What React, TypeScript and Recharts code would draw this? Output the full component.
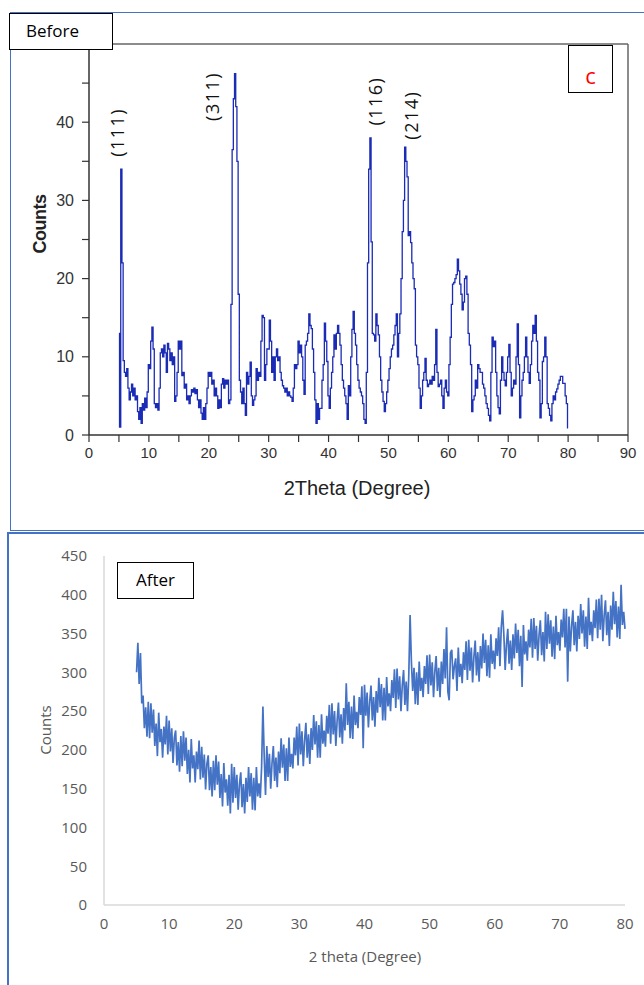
import React from 'react';
import { LineChart, Line, XAxis, YAxis, ReferenceLine, ReferenceDot } from 'recharts';

// ---------- "Before" pattern (top panel) ----------
const beforeStart = 5;
const beforeStep = 0.2;
const beforeCounts = [
  13, 1, 34, 22, 9.5,
  8, 7.5, 8.5, 6, 4.5,
  5.5, 6.5, 5, 6, 4.5,
  5, 3, 2, 3.5, 1.5,
  4, 3.2, 4.7, 3.5, 5.5,
  9, 8.5, 12, 13.8, 11,
  4, 3.5, 4, 3.2, 6,
  10.5, 11, 10, 11.5, 10.5,
  8, 11.7, 11, 9.5, 10.5,
  9, 10, 4.3, 5, 8,
  12, 11, 12, 7.6, 8,
  6, 6.5, 4.5, 5, 4,
  5, 5.8, 5.5, 6, 5.3,
  5.8, 4.5, 3.5, 4.5, 2.8,
  2, 3.5, 2, 4, 6,
  8, 7.5, 8, 6.5, 7,
  5, 6, 5, 3.4, 4.5,
  3.5, 6.5, 7.2, 6, 7,
  6.5, 7, 4, 4.5, 16.7,
  36.5, 43, 46.2, 42, 35,
  18, 7, 5.5, 4, 6,
  4, 2.5, 8, 6.5, 7.5,
  9.3, 5, 3.8, 4.5, 5,
  8.5, 7, 8, 7.5, 12,
  15.3, 15, 7, 9, 11,
  11, 14.7, 12, 8, 10,
  7, 10, 11, 9.5, 10,
  8, 7, 6.3, 6, 5.5,
  6, 5, 5.5, 5, 4.8,
  4.3, 6, 9, 8.5, 9,
  12, 10.5, 11.5, 10, 7,
  5.2, 11.5, 12, 13, 15.5,
  14, 13.6, 11, 8, 4.5,
  1.5, 4, 2, 3.4, 3.4,
  7, 9, 14.3, 12, 9.4,
  5, 3.4, 6, 8, 10,
  12.8, 11, 13, 14, 13,
  11.5, 9, 7, 6, 5,
  4, 2, 6.3, 5, 10,
  13.5, 15.8, 13, 11.5, 9,
  7, 6, 5.5, 5, 4,
  2, 1.5, 8, 22, 34,
  38, 24.7, 13, 12.8, 12,
  15.5, 14, 12.8, 10, 7,
  5.5, 4.3, 3, 4, 5.5,
  7, 8.5, 10, 11, 11.5,
  12.8, 14, 15.5, 10, 13,
  15.5, 20, 26, 30, 36.8,
  35, 33, 25.5, 26, 24.6,
  22, 20, 18.7, 11.5, 10,
  9, 6, 3.4, 5, 7,
  8, 9.8, 7, 6.2, 6.5,
  7, 6.5, 7.5, 7, 9,
  13.5, 8, 6.2, 6.5, 7,
  5, 3.4, 6, 7, 5.5,
  5, 9, 12.5, 16.7, 19.3,
  19.5, 20, 20.5, 22.5, 21,
  19.3, 18, 16, 17, 20,
  20.3, 18, 13, 11.5, 9,
  3, 4.5, 5, 7, 6,
  9, 8.5, 8, 8, 6.5,
  6, 5, 4, 3.4, 2.5,
  1.8, 8, 12.5, 11.3, 12,
  8, 5, 3.5, 2.7, 7,
  10, 8, 7, 6.3, 8,
  10, 11.6, 8, 5, 6,
  7, 6.5, 10, 14.2, 9,
  2.2, 5, 7, 8, 10,
  12.5, 10, 8, 6.6, 9,
  12, 14, 13, 15.3, 12,
  8, 7, 2.2, 4, 9.4,
  10, 12.5, 10, 4, 3.4,
  2.5, 1.8, 4, 5, 4.5,
  5.5, 5.9, 6.5, 7, 7.5,
  7.5, 6.6, 6.6, 5, 4,
  0.9,
];
const beforeXTicks = [0, 5, 10, 15, 20, 25, 30, 35, 40, 45, 50, 55, 60, 65, 70, 75, 80, 85, 90];
const beforeYTicks = [0, 5, 10, 15, 20, 25, 30, 35, 40, 45];
const peakLabels = ['(111)', '(311)', '(116)', '(214)'];
const peakLabelX = [4.7, 20.5, 47.8, 53.7];
const peakLabelY = [38.7, 43.3, 42.7, 40.9];

// ---------- "After" pattern (bottom panel) ----------
const afterStart = 5;
const afterStep = 0.2;
const afterCounts = [
  300, 338, 285, 325, 260,
  270, 228, 255, 217, 262,
  215, 260, 222, 252, 205,
  234, 192, 248, 210, 227,
  190, 230, 207, 244, 194,
  238, 198, 228, 183, 216,
  225, 180, 210, 172, 218,
  179, 224, 186, 216, 169,
  200, 158, 214, 176, 193,
  158, 198, 175, 212, 162,
  204, 164, 194, 149, 182,
  193, 148, 178, 140, 186,
  148, 193, 155, 185, 138,
  169, 127, 183, 145, 162,
  128, 168, 118, 182, 132,
  178, 138, 168, 123, 156,
  171, 126, 156, 118, 164,
  133, 178, 140, 170, 123,
  164, 122, 178, 140, 157,
  138, 178, 256, 192, 142,
  205, 165, 195, 150, 183,
  205, 160, 190, 152, 198,
  170, 215, 177, 207, 160,
  202, 160, 216, 178, 195,
  176, 216, 193, 230, 180,
  234, 194, 224, 179, 212,
  235, 190, 220, 182, 228,
  200, 245, 207, 237, 190,
  232, 190, 246, 208, 225,
  204, 244, 221, 258, 208,
  260, 220, 250, 205, 238,
  261, 216, 246, 208, 254,
  225, 286, 232, 262, 215,
  256, 214, 270, 232, 249,
  228, 268, 245, 282, 202,
  284, 244, 274, 229, 262,
  283, 238, 268, 230, 276,
  248, 293, 255, 285, 238,
  280, 238, 294, 256, 273,
  250, 290, 267, 304, 254,
  305, 265, 295, 250, 283,
  303, 258, 288, 250, 296,
  374, 314, 276, 306, 259,
  300, 258, 314, 276, 293,
  268, 308, 285, 322, 272,
  323, 283, 313, 268, 301,
  321, 276, 306, 268, 314,
  285, 330, 292, 358, 275,
  264, 325, 329, 291, 308,
  318, 276, 332, 294, 311,
  286, 326, 303, 340, 290,
  342, 302, 332, 287, 320,
  341, 296, 326, 288, 334,
  305, 350, 312, 342, 295,
  335, 293, 349, 311, 328,
  304, 344, 321, 358, 308,
  358, 380, 348, 303, 336,
  356, 311, 341, 303, 349,
  318, 363, 325, 355, 308,
  347, 281, 361, 323, 340,
  315, 355, 332, 369, 319,
  370, 330, 360, 315, 348,
  367, 322, 352, 314, 378,
  330, 375, 337, 367, 320,
  359, 317, 373, 335, 352,
  328, 368, 345, 382, 332,
  382, 288, 372, 327, 360,
  380, 335, 365, 327, 373,
  343, 388, 350, 380, 333,
  372, 330, 396, 348, 365,
  340, 380, 357, 394, 344,
  395, 355, 400, 340, 373,
  393, 348, 378, 334, 386,
  355, 404, 362, 392, 345,
  385, 343, 413, 361, 378,
  356,
];
const afterXTicks = [0, 10, 20, 30, 40, 50, 60, 70, 80];
const afterYTicks = [0, 50, 100, 150, 200, 250, 300, 350, 400, 450];

const beforeData = beforeCounts.map((c, i) => ({ x: +(beforeStart + i * beforeStep).toFixed(2), y: c }));
const afterData = afterCounts.map((c, i) => ({ x: +(afterStart + i * afterStep).toFixed(2), y: c }));

const ARIAL = '"Liberation Sans", Arial, sans-serif';
const CAL = '"Open Sans", "Noto Sans", sans-serif';

const abs = (s: React.CSSProperties): React.CSSProperties => ({ position: 'absolute', ...s });

const PeakText = (label: string) => (p: any) => {
  const cx = p.cx;
  const cy = p.cy;
  return (
    <text
      x={cx}
      y={cy}
      transform={`rotate(-90 ${cx} ${cy})`}
      textAnchor="middle"
      dominantBaseline="central"
      fontFamily={CAL}
      fontSize={18}
      letterSpacing={1.5}
      fill="#111"
    >
      {label}
    </text>
  );
};

export default function App() {
  return (
    <div style={abs({ left: 0, top: 0, width: 644, height: 985, overflow: 'hidden', background: '#fff' })}>
      {/* panel borders */}
      <div style={abs({ left: 10, top: 12, width: 680, height: 517, border: '1px solid #4472C4' })} />
      <div style={abs({ left: 7, top: 532, width: 680, height: 500, borderTop: '2px solid #4472C4', borderLeft: '2px solid #4472C4' })} />

      {/* Top chart */}
      <div style={abs({ left: 0, top: 0 })}>
        <LineChart width={644} height={530} data={beforeData} margin={{ top: 44, right: 16, bottom: 65, left: 49 }}>
          <XAxis
            dataKey="x"
            type="number"
            domain={[0, 90]}
            ticks={beforeXTicks}
            interval={0}
            tickFormatter={(v: number) => (v % 10 === 0 ? String(v) : '')}
            height={30}
            tickSize={7}
            tickMargin={5}
            axisLine={{ stroke: '#333', strokeWidth: 1.5 }}
            tickLine={{ stroke: '#333', strokeWidth: 1.2 }}
            tick={{ fontFamily: ARIAL, fontSize: 15, fill: '#333' }}
          />
          <YAxis
            type="number"
            domain={[0, 50]}
            ticks={beforeYTicks}
            interval={0}
            tickFormatter={(v: number) => (v % 10 === 0 ? String(v) : '')}
            width={40}
            tickSize={7}
            tickMargin={8}
            axisLine={{ stroke: '#333', strokeWidth: 1.5 }}
            tickLine={{ stroke: '#333', strokeWidth: 1.2 }}
            tick={{ fontFamily: ARIAL, fontSize: 16, fill: '#333' }}
          />
          <ReferenceLine y={50} stroke="#666" strokeWidth={1.5} />
          <ReferenceLine x={90} stroke="#666" strokeWidth={1.5} />
          <Line
            dataKey="y"
            type="step"
            stroke="#1a2bb5"
            strokeWidth={1.3}
            dot={false}
            isAnimationActive={false}
          />
          {peakLabels.map((lab, i) => (
            <ReferenceDot
              key={lab}
              x={peakLabelX[i]}
              y={peakLabelY[i]}
              r={1}
              shape={PeakText(lab)}
            />
          ))}
        </LineChart>
      </div>

      {/* Top panel texts */}
      <div style={abs({ left: 40, top: 224, transform: 'translate(-50%,-50%) rotate(-90deg)', fontFamily: ARIAL, fontWeight: 'bold', fontSize: 18, color: '#222', whiteSpace: 'nowrap', letterSpacing: -0.5 })}>
        Counts
      </div>
      <div style={abs({ left: 357, top: 488, transform: 'translate(-50%,-50%)', fontFamily: ARIAL, fontSize: 20, color: '#222', whiteSpace: 'nowrap' })}>
        2Theta (Degree)
      </div>
      <div style={abs({ left: 9, top: 13, width: 104, height: 37, border: '1.5px solid #000', background: '#fff', fontFamily: CAL, fontSize: 17, color: '#000', lineHeight: '34px', paddingLeft: 16, boxSizing: 'border-box' })}>
        Before
      </div>
      <div style={abs({ left: 568, top: 45, width: 43, height: 46, border: '1.5px solid #000', background: '#fff', fontFamily: CAL, fontSize: 22, color: '#ff0000', lineHeight: '58px', textAlign: 'center' })}>
        c
      </div>

      {/* Bottom chart */}
      <div style={abs({ left: 0, top: 533 })}>
        <LineChart width={644} height={452} data={afterData} margin={{ top: 23, right: 19, bottom: 50, left: 44 }}>
          <XAxis
            dataKey="x"
            type="number"
            domain={[0, 80]}
            ticks={afterXTicks}
            interval={0}
            height={30}
            tickLine={false}
            tickSize={0}
            tickMargin={13}
            axisLine={{ stroke: '#d9d9d9', strokeWidth: 1.5 }}
            tick={{ fontFamily: CAL, fontSize: 15, fill: '#595959' }}
          />
          <YAxis
            type="number"
            domain={[0, 450]}
            ticks={afterYTicks}
            interval={0}
            width={60}
            tickLine={false}
            tickSize={0}
            tickMargin={17}
            axisLine={{ stroke: '#d9d9d9', strokeWidth: 1.5 }}
            tick={{ fontFamily: CAL, fontSize: 15, fill: '#595959' }}
          />
          <Line
            dataKey="y"
            type="linear"
            stroke="#4472C4"
            strokeWidth={1.7}
            dot={false}
            isAnimationActive={false}
          />
        </LineChart>
      </div>

      {/* Bottom panel texts */}
      <div style={abs({ left: 45, top: 730, transform: 'translate(-50%,-50%) rotate(-90deg)', fontFamily: CAL, fontSize: 15, color: '#595959', whiteSpace: 'nowrap' })}>
        Counts
      </div>
      <div style={abs({ left: 365, top: 956, transform: 'translate(-50%,-50%)', fontFamily: CAL, fontSize: 15, color: '#595959', whiteSpace: 'nowrap' })}>
        2 theta (Degree)
      </div>
      <div style={abs({ left: 117, top: 562, width: 77, height: 37, border: '1.5px solid #000', background: '#fff', fontFamily: CAL, fontSize: 17, color: '#000', lineHeight: '34px', textAlign: 'center', boxSizing: 'border-box' })}>
        After
      </div>
    </div>
  );
}
